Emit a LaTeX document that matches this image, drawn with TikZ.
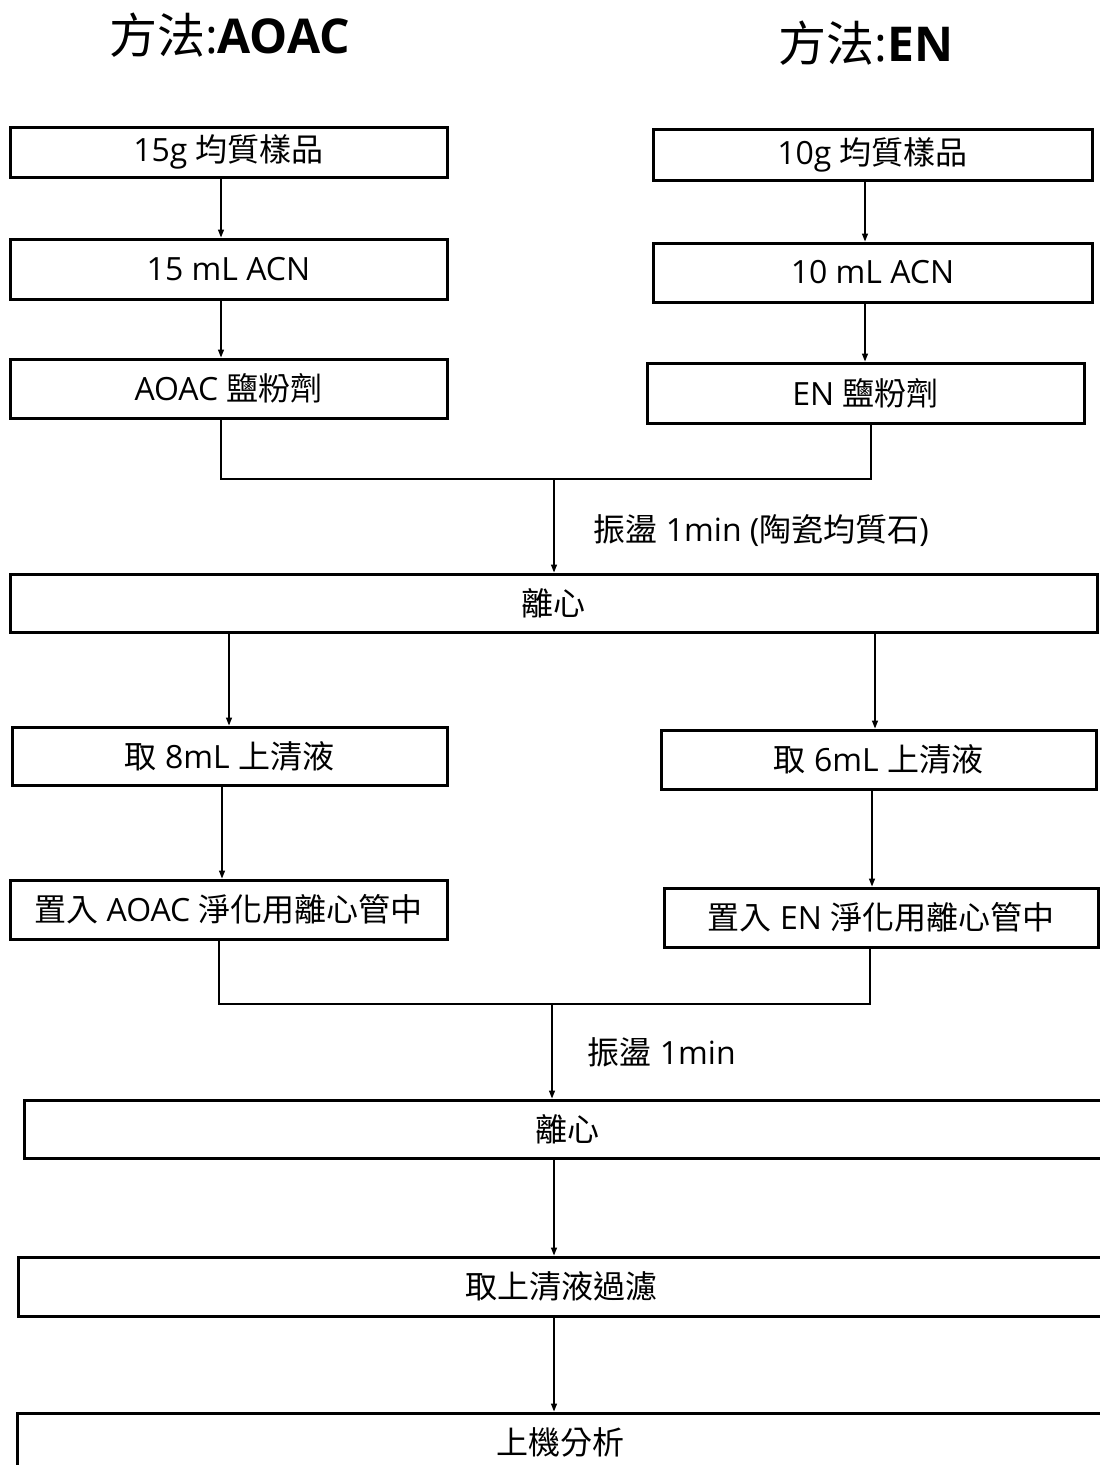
\documentclass[tikz,border=0pt]{standalone}
\usepackage{fontspec}
\setmainfont{Open Sans}
\newfontfamily\cjk{Noto Sans CJK TC}
\usetikzlibrary{arrows.meta}
\begin{document}
\begin{tikzpicture}[x=1pt,y=-1pt,
  box/.style={draw, line width=3pt, inner sep=0pt, font=\fontsize{32}{36}\selectfont},
  conn/.style={line width=1.4pt},
  arr/.style={conn, -{Triangle[width=6pt,length=8pt]}},
  lbl/.style={anchor=west, font=\fontsize{32}{36}\selectfont},
  ttl/.style={font=\fontsize{48}{54}\selectfont}]
\useasboundingbox (0,0) rectangle (1100,1465);
\clip (0,0) rectangle (1100,1465);

% titles
\node[ttl] (T1) at (229.5,35) {{\cjk 方法}:\textbf{AOAC}};
\node[ttl] (T2) at (866,43) {{\cjk 方法}:\textbf{EN}};

% left column
\node[box, minimum width=437pt, minimum height=50pt] (A1) at (228.5,152) {15g {\cjk 均質樣品}};
\node[box, minimum width=437pt, minimum height=60pt] (A2) at (228.5,269) {15 mL ACN};
\node[box, minimum width=437pt, minimum height=59pt] (A3) at (228.5,388.5) {AOAC {\cjk 鹽粉劑}};
% right column
\node[box, minimum width=439pt, minimum height=51pt] (E1) at (872.5,154.5) {10g {\cjk 均質樣品}};
\node[box, minimum width=439pt, minimum height=59pt] (E2) at (872.5,272.5) {10 mL ACN};
\node[box, minimum width=437pt, minimum height=60pt] (E3) at (865.5,393) {EN {\cjk 鹽粉劑}};

\node[box, minimum width=1087pt, minimum height=58pt] (C1) at (553.5,603) {\cjk 離心};

\node[box, minimum width=435pt, minimum height=58pt] (A4) at (229.5,756) {{\cjk 取} 8mL {\cjk 上清液}};
\node[box, minimum width=435pt, minimum height=59pt] (E4) at (878.5,759.5) {{\cjk 取} 6mL {\cjk 上清液}};
\node[box, minimum width=437pt, minimum height=59pt] (A5) at (228.5,909.5) {{\cjk 置入} AOAC {\cjk 淨化用離心管中}};
\node[box, minimum width=434pt, minimum height=59pt] (E5) at (881,917.5) {{\cjk 置入} EN {\cjk 淨化用離心管中}};

\node[box, minimum width=1086pt, minimum height=58pt] (C2) at (567,1129) {\cjk 離心};
\node[box, minimum width=1086pt, minimum height=59pt] (C3) at (561,1286.5) {\cjk 取上清液過濾};
\node[box, minimum width=1086pt, minimum height=58pt] (C4) at (560.5,1442) {\cjk 上機分析};

% column coordinates
\coordinate (xL1) at (221,0);
\coordinate (xR1) at (865,0);
\coordinate (xL2) at (229,0);
\coordinate (xR2) at (875,0);
\coordinate (xL3) at (222,0);
\coordinate (xR3) at (872,0);
\coordinate (xC) at (554,0);

\draw[arr] (A1.south -| xL1) -- (A2.north -| xL1);
\draw[arr] (A2.south -| xL1) -- (A3.north -| xL1);
\draw[arr] (E1.south -| xR1) -- (E2.north -| xR1);
\draw[arr] (E2.south -| xR1) -- (E3.north -| xR1);

% merge 1
\coordinate (m1L) at (221,479);
\coordinate (m1R) at (871,479);
\coordinate (m1) at (554,479);
\draw[conn] (A3.south -| m1L) -- (m1L) -- (m1R) -- (E3.south -| m1R);
\draw[arr] (m1) -- (C1.north -| m1);
\node[lbl] (L1) at (590,531) {{\cjk 振盪} 1min ({\cjk 陶瓷均質石})};

\draw[arr] (C1.south -| xL2) -- (A4.north -| xL2);
\draw[arr] (C1.south -| xR2) -- (E4.north -| xR2);
\draw[arr] (A4.south -| xL3) -- (A5.north -| xL3);
\draw[arr] (E4.south -| xR3) -- (E5.north -| xR3);

% merge 2
\coordinate (m2L) at (219,1004);
\coordinate (m2R) at (870,1004);
\coordinate (m2) at (552,1004);
\draw[conn] (A5.south -| m2L) -- (m2L) -- (m2R) -- (E5.south -| m2R);
\draw[arr] (m2) -- (C2.north -| m2);
\node[lbl] (L2) at (584,1052) {{\cjk 振盪} 1min};

\draw[arr] (C2.south -| xC) -- (C3.north -| xC);
\draw[arr] (C3.south -| xC) -- (C4.north -| xC);
\end{tikzpicture}
\end{document}
